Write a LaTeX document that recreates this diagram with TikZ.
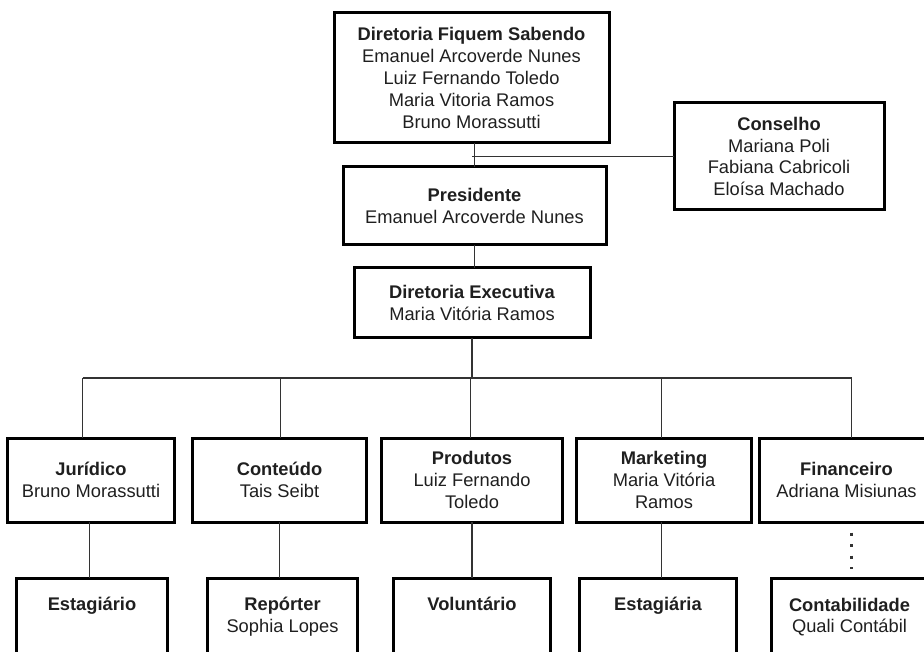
\documentclass[tikz,border=0pt]{standalone}
\usepackage{fontspec}
\setmainfont{Liberation Sans}
\usepackage{tikz}
\usetikzlibrary{positioning}

\begin{document}
\begin{tikzpicture}[x=1pt, y=-1pt, node distance=20pt,
		font=\fontsize{18.3}{21.8}\selectfont,
		box/.style={draw, line width=3pt, rectangle, outer sep=0pt, inner sep=2pt, align=center, text=black!88},
		link/.style={draw=black!80, line width=1.5pt}]
		
		\useasboundingbox (0,0) rectangle (924,652);
		\clip (0,0) rectangle (924,652);
		
		% Nodes
		\node[box, minimum width=275pt, minimum height=130pt] (dir) at (471.5,78) {
			\textbf{Diretoria Fiquem Sabendo}\\
			Emanuel Arcoverde Nunes\\
			Luiz Fernando Toledo\\
			Maria Vitoria Ramos\\
			Bruno Morassutti};
		
		\node[box, minimum width=210pt, minimum height=107pt, below right=90pt and 65pt of dir.north east] (cons) {
			\textbf{Conselho}\\
			Mariana Poli\\
			Fabiana Cabricoli\\
			Eloísa Machado};
		
		\node[box, minimum width=263pt, minimum height=78pt, below=24pt of dir, xshift=3pt] (pres) {
			\textbf{Presidente}\\
			Emanuel Arcoverde Nunes};
		
		\node[box, minimum width=236pt, minimum height=70pt, below=23pt of pres, xshift=-2.5pt] (exec) {
			\textbf{Diretoria Executiva}\\
			Maria Vitória Ramos};
		
		% second row
		\node[box, minimum width=181pt, minimum height=84pt, below=100pt of exec] (prod) {
			\textbf{Produtos}\\
			Luiz Fernando\\
			Toledo};
		\node[box, minimum width=174pt, minimum height=84pt, left=15pt of prod] (cont) {
			\textbf{Conteúdo}\\
			Tais Seibt};
		\node[box, minimum width=167pt, minimum height=84pt, left=18pt of cont] (jur) {
			\textbf{Jurídico}\\
			Bruno Morassutti};
		\node[box, minimum width=175pt, minimum height=84pt, right=14pt of prod] (mkt) {
			\textbf{Marketing}\\
			Maria Vitória\\
			Ramos};
		\node[box, minimum width=174pt, minimum height=84pt, right=8pt of mkt] (fin) {
			\textbf{Financeiro}\\
			Adriana Misiunas};
		
		% third row
		\node[box, minimum width=151pt, minimum height=78pt, below=56pt of jur, xshift=1pt] (estj) {
			\textbf{Estagiário}\\
			\phantom{Xg}};
		\node[box, minimum width=150pt, minimum height=78pt, below=56pt of cont, xshift=3pt] (rep) {
			\textbf{Repórter}\\
			Sophia Lopes};
		\node[box, minimum width=157pt, minimum height=78pt, below=56pt of prod] (vol) {
			\textbf{Voluntário}\\
			\phantom{Xg}};
		\node[box, minimum width=157pt, minimum height=78pt, below=56pt of mkt, xshift=-6pt] (estm) {
			\textbf{Estagiária}\\
			\phantom{Xg}};
		\node[box, minimum width=156pt, minimum height=78pt, below=56pt of fin, xshift=3pt] (contab) {
			\textbf{Contabilidade}\\
			Quali Contábil};
		
		\coordinate[below=40pt of exec.south] (bus);
		
		% Lines
		\draw[link] (dir.south -| pres.north) -- (pres.north);
		\draw[link] (cons.west) -- (cons.west -| dir.south);
		\draw[link] (pres.south) -- (pres.south |- exec.north);
		\draw[link] (exec.south) -- (bus);
		\draw[link] ([xshift=-8.5pt]jur.north |- bus) -- ([xshift=5pt]fin.north |- bus);
		\foreach \n/\s in {jur/-8.5, cont/1, prod/-1.5, mkt/-2.5, fin/5}
			\draw[link] ([xshift=\s pt]\n.north |- bus) -- ([xshift=\s pt]\n.north);
		
		\draw[link] ([xshift=-1.5pt]jur.south) -- ([xshift=-1.5pt]jur.south |- estj.north);
		\draw[link] (cont.south) -- (cont.south |- rep.north);
		\draw[link] (prod.south) -- (prod.south |- vol.north);
		\draw[link] ([xshift=-2.5pt]mkt.south) -- ([xshift=-2.5pt]mkt.south |- estm.north);
		\draw[link, line width=3pt, dash pattern=on 3pt off 8.5pt, shorten <=10.5pt, shorten >=9pt] ([xshift=5pt]fin.south) -- ([xshift=5pt]fin.south |- contab.north);
		
\end{tikzpicture}
\end{document}
